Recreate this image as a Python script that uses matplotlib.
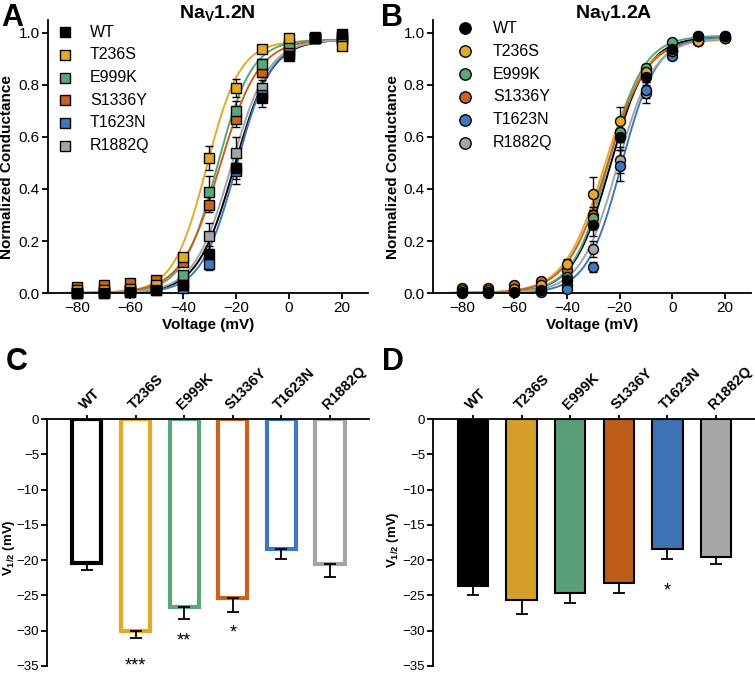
import numpy as np
import matplotlib
matplotlib.use("Agg")
import matplotlib.pyplot as plt

plt.rcParams['font.family'] = ['Liberation Sans', 'DejaVu Sans']
plt.rcParams['mathtext.fontset'] = 'custom'
plt.rcParams['mathtext.rm'] = 'Liberation Sans'
plt.rcParams['mathtext.bf'] = 'Liberation Sans:bold'

variants = ["WT", "T236S", "E999K", "S1336Y", "T1623N", "R1882Q"]
line_colors = ["#000000", "#E3A92B", "#5BA77B", "#C8631E", "#3F78BE", "#A5A5A5"]
bar_colors_D = ["#000000", "#D69F29", "#5A9E78", "#BC5E19", "#3E72B2", "#A6A6A6"]

voltages = [-80, -70, -60, -50, -40, -30, -20, -10, 0, 10, 20]

# Panel A (NaV1.2N) normalized conductance
gA = {
    "WT":     [0.00, 0.00, 0.005, 0.01, 0.03, 0.15, 0.48, 0.75, 0.91, 0.98, 0.995],
    "T236S":  [0.01, 0.01, 0.015, 0.03, 0.14, 0.52, 0.79, 0.94, 0.98, 0.98, 0.95],
    "E999K":  [0.005, 0.005, 0.01, 0.02, 0.07, 0.39, 0.70, 0.88, 0.96, 0.985, 0.98],
    "S1336Y": [0.025, 0.03, 0.04, 0.05, 0.12, 0.34, 0.67, 0.85, 0.95, 0.98, 0.97],
    "T1623N": [0.00, 0.00, 0.005, 0.01, 0.02, 0.11, 0.47, 0.76, 0.92, 0.98, 0.99],
    "R1882Q": [0.00, 0.005, 0.01, 0.015, 0.04, 0.22, 0.54, 0.79, 0.93, 0.98, 0.98],
}
eA = {
    "WT":     [0, 0, 0, 0, 0.01, 0.03, 0.06, 0.035, 0.01, 0.005, 0.005],
    "T236S":  [0, 0, 0, 0, 0.01, 0.045, 0.035, 0.01, 0.01, 0.005, 0.005],
    "E999K":  [0, 0, 0, 0, 0.01, 0.06, 0.04, 0.02, 0.01, 0.005, 0.005],
    "S1336Y": [0, 0, 0, 0, 0.01, 0.03, 0.03, 0.02, 0.01, 0.005, 0.005],
    "T1623N": [0, 0, 0, 0, 0.01, 0.02, 0.03, 0.02, 0.01, 0.005, 0.005],
    "R1882Q": [0, 0, 0, 0, 0.01, 0.05, 0.06, 0.03, 0.01, 0.005, 0.005],
}
# Boltzmann fit parameters (V1/2, k, Gmax)
fitA_vh = [-20.5, -31.0, -27.0, -26.0, -19.8, -21.7]
fitA_k = [7.0, 6.3, 6.5, 7.3, 6.6, 7.0]
fitA_gmax = [0.975, 0.97, 0.975, 0.975, 0.975, 0.975]

# Panel B (NaV1.2A)
gB = {
    "WT":     [0.005, 0.005, 0.005, 0.01, 0.05, 0.26, 0.60, 0.83, 0.94, 0.99, 0.99],
    "T236S":  [0.01, 0.01, 0.015, 0.03, 0.11, 0.38, 0.66, 0.85, 0.93, 0.97, 0.98],
    "E999K":  [0.005, 0.005, 0.01, 0.02, 0.06, 0.29, 0.62, 0.865, 0.965, 0.99, 0.99],
    "S1336Y": [0.02, 0.02, 0.03, 0.045, 0.09, 0.30, 0.62, 0.84, 0.93, 0.97, 0.98],
    "T1623N": [0.00, 0.00, 0.005, 0.005, 0.015, 0.10, 0.49, 0.78, 0.91, 0.97, 0.98],
    "R1882Q": [0.005, 0.005, 0.005, 0.01, 0.03, 0.17, 0.51, 0.77, 0.93, 0.97, 0.98],
}
eB = {
    "WT":     [0, 0, 0, 0, 0.01, 0.04, 0.05, 0.03, 0.01, 0.005, 0.005],
    "T236S":  [0, 0, 0, 0, 0.02, 0.065, 0.055, 0.02, 0.01, 0.005, 0.005],
    "E999K":  [0, 0, 0, 0, 0.01, 0.03, 0.04, 0.015, 0.01, 0.005, 0.005],
    "S1336Y": [0, 0, 0, 0, 0.01, 0.03, 0.04, 0.02, 0.01, 0.005, 0.005],
    "T1623N": [0, 0, 0, 0, 0.01, 0.02, 0.06, 0.03, 0.01, 0.005, 0.005],
    "R1882Q": [0, 0, 0, 0, 0.01, 0.03, 0.05, 0.04, 0.01, 0.005, 0.005],
}
fitB_vh = [-23.5, -25.8, -24.3, -24.8, -19.3, -20.8]
fitB_k = [7.0, 7.6, 6.8, 7.6, 6.6, 7.0]
fitB_gmax = [0.985, 0.975, 0.99, 0.98, 0.985, 0.98]

# Panel C / D: V1/2 (mV) mean and SEM
vhalfC = [-20.4, -30.0, -26.6, -25.3, -18.4, -20.6]
semC = [1.0, 1.1, 1.8, 2.0, 1.5, 1.8]
sigC = ["", "***", "**", "*", "", ""]
vhalfD = [-23.6, -25.7, -24.6, -23.2, -18.4, -19.5]
semD = [1.3, 2.0, 1.5, 1.5, 1.5, 1.0]
sigD = ["", "", "", "", "*", ""]

W, H = 755, 678
fig = plt.figure(figsize=(W / 100, H / 100), dpi=100)

def boltz(v, vh, k, gmax):
    return gmax / (1.0 + np.exp((vh - v) / k))

def gv_panel(ax, data, err, vhs, ks, gmaxs, marker, msize, leg_x, leg_tx, leg_y0, leg_step):
    vv = np.linspace(-85, 22, 400)
    for i, name in enumerate(variants):
        ax.plot(vv, boltz(vv, vhs[i], ks[i], gmaxs[i]), color=line_colors[i], lw=1.4, zorder=2)
    for i in reversed(range(len(variants))):
        name = variants[i]
        ax.errorbar(voltages, data[name], yerr=err[name], fmt='none', ecolor='black',
                    elinewidth=1.0, capsize=3, capthick=1.0, zorder=3, clip_on=False)
        ax.plot(voltages, data[name], linestyle='none', marker=marker, markersize=msize,
                markerfacecolor=line_colors[i], markeredgecolor='black', markeredgewidth=1.0,
                zorder=4 + (len(variants) - i) * 0.01, clip_on=False)
    ax.set_xlim(-91, 30)
    ax.set_ylim(0, 1.05)
    ax.set_xticks([-80, -60, -40, -20, 0, 20])
    ax.set_yticks([0.0, 0.2, 0.4, 0.6, 0.8, 1.0])
    ax.set_yticklabels(["0.0", "0.2", "0.4", "0.6", "0.8", "1.0"])
    ax.spines['top'].set_visible(False)
    ax.spines['right'].set_visible(False)
    for s in ['left', 'bottom']:
        ax.spines[s].set_linewidth(1.3)
    ax.tick_params(labelsize=11, width=1.3, length=4, pad=2)
    ax.set_xlabel("Voltage (mV)", fontsize=11, fontweight='bold', labelpad=2)
    ax.set_ylabel("Normalized Conductance", fontsize=11, fontweight='bold')
    ax.yaxis.set_label_coords(-0.105, 0.46)
    # legend (markers + labels)
    for i, name in enumerate(variants):
        yy = leg_y0 - i * leg_step
        ax.plot([leg_x], [yy], transform=ax.transAxes, linestyle='none', marker=marker,
                markersize=msize + 1, markerfacecolor=line_colors[i], markeredgecolor='black',
                markeredgewidth=1.0, clip_on=False, zorder=6)
        ax.text(leg_tx, yy, name, transform=ax.transAxes, fontsize=11.5, ha='left', va='center')

axA = fig.add_axes([48 / W, 1 - 293 / H, 320 / W, 273 / H])
gv_panel(axA, gA, eA, fitA_vh, fitA_k, fitA_gmax, 's', 6.8, 0.053, 0.131, 0.955, 0.083)
axB = fig.add_axes([433 / W, 1 - 293 / H, 318 / W, 273 / H])
gv_panel(axB, gB, eB, fitB_vh, fitB_k, fitB_gmax, 'o', 7.2, 0.10, 0.189, 0.97, 0.084)

fig.text(217 / W, 1 - 14 / H, r"Na$_\mathbf{V}$1.2N", fontsize=14, fontweight='bold',
         ha='center', va='center')
fig.text(614 / W, 1 - 14 / H, r"Na$_\mathbf{V}$1.2A", fontsize=14, fontweight='bold',
         ha='center', va='center')

def bar_panel(ax, vals, sems, sigs, filled, star_off, ylab_x, ylab_y):
    x = np.arange(len(variants))
    for i in x:
        if filled:
            ax.bar(i, vals[i], width=0.62, color=bar_colors_D[i], edgecolor='black',
                   linewidth=1.5, zorder=2)
            ax.errorbar(i, vals[i], yerr=[[sems[i]], [0]], fmt='none', ecolor='black',
                        elinewidth=1.3, capsize=4, capthick=1.3, zorder=3)
        else:
            ax.bar(i, vals[i], width=0.6, color='white', edgecolor=line_colors[i],
                   linewidth=3.0, zorder=2)
            ax.errorbar(i, vals[i], yerr=[[sems[i]], [0]], fmt='none', ecolor='black',
                        elinewidth=1.3, capsize=4.5, capthick=1.3, zorder=3)
        if sigs[i]:
            extra = 0.9 if len(sigs[i]) >= 3 else 0.0
            ax.text(i, vals[i] - sems[i] - star_off - extra, sigs[i], ha='center',
                    va='center', fontsize=13)
    ax.set_xlim(-0.82, 5.8)
    ax.set_ylim(-35, 0)
    ax.set_yticks(np.arange(-35, 1, 5))
    ax.set_xticks(x)
    ax.xaxis.tick_top()
    ax.set_xticklabels(variants, rotation=45, ha='left', va='bottom',
                       rotation_mode='anchor', fontsize=10.5, fontweight='bold')
    ax.spines['bottom'].set_visible(False)
    ax.spines['right'].set_visible(False)
    ax.spines['left'].set_linewidth(1.3)
    ax.spines['top'].set_linewidth(1.3)
    ax.tick_params(axis='y', labelsize=9.5, width=1.3, length=4, pad=1.5)
    ax.tick_params(axis='x', width=1.3, length=3, pad=2)
    ax.set_ylabel(r"V$_{\mathbf{1/2}}$ (mV)", fontsize=9.5, fontweight='bold')
    ax.yaxis.set_label_coords(ylab_x, ylab_y)

axC = fig.add_axes([47 / W, 1 - 666 / H, 322 / W, 247 / H])
bar_panel(axC, vhalfC, semC, sigC, False, 3.0, -0.094, 0.48)
axD = fig.add_axes([433 / W, 1 - 666 / H, 322 / W, 247 / H])
bar_panel(axD, vhalfD, semD, sigD, True, 4.4, -0.1, 0.51)

for lab, xx, yy in [("A", 1, 3), ("B", 381, 3), ("C", 6, 347), ("D", 382, 347)]:
    fig.text(xx / W, 1 - yy / H, lab, fontsize=22, fontweight='bold', ha='left', va='top')

fig.savefig("out.png", dpi=100)
